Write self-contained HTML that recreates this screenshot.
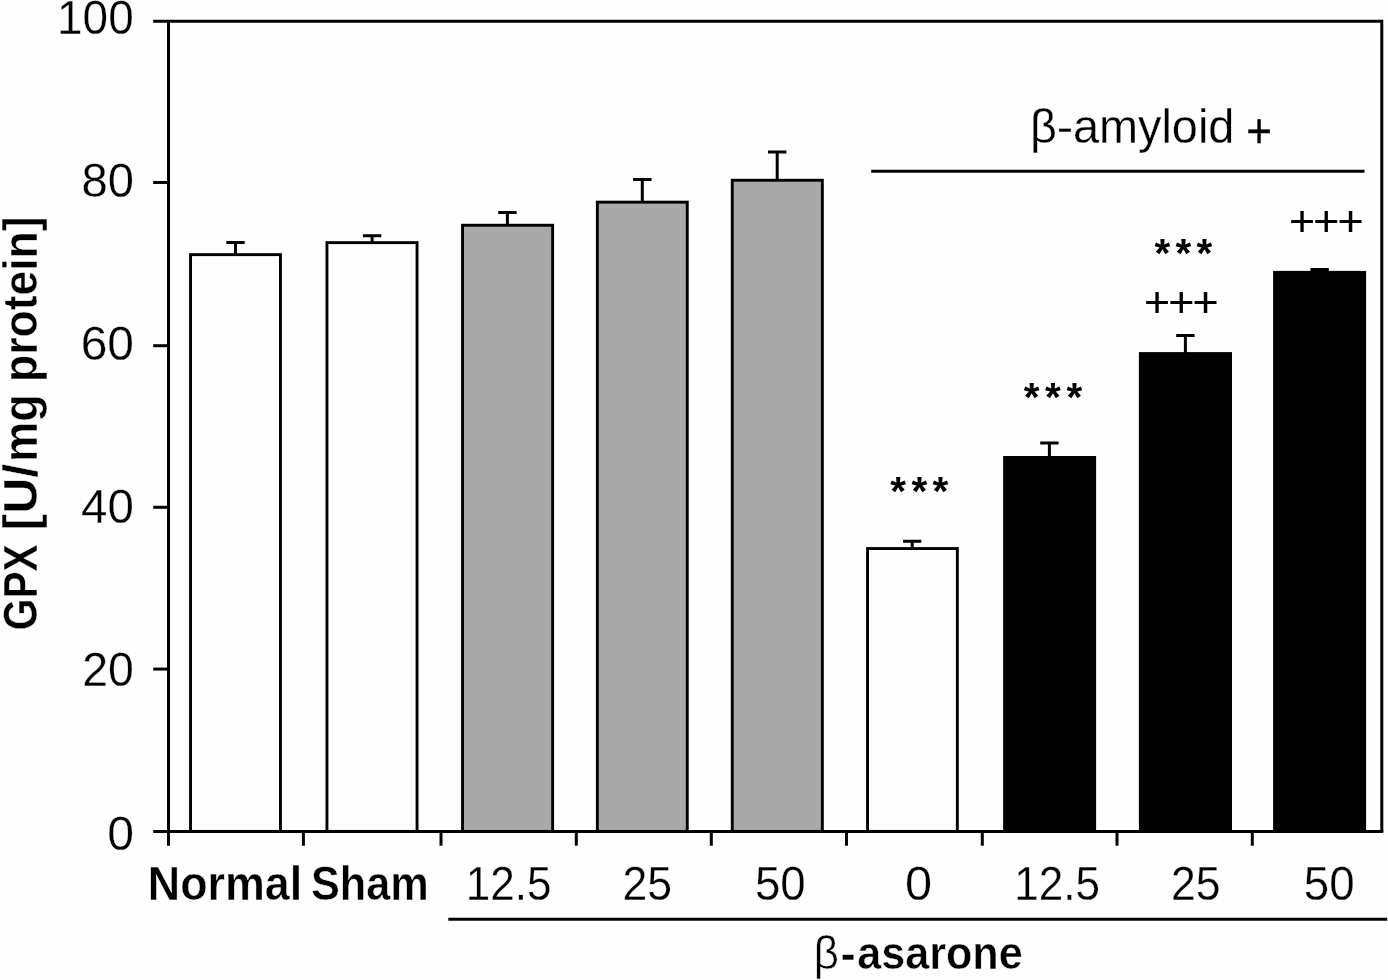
<!DOCTYPE html>
<html lang="en">
<head>
<meta charset="utf-8">
<title>GPX [U/mg protein] – β-asarone / β-amyloid bar chart</title>
<style>
html,body{margin:0;padding:0;background:#fefefe;}
body{width:1388px;height:980px;overflow:hidden;}
svg{display:block;}
text{font-family:"Liberation Sans", sans-serif;fill:#000;white-space:pre;}
.ax{stroke:#000;stroke-width:3.0;fill:none;stroke-linecap:butt;}
.eb{stroke:#000;stroke-width:3;fill:none;}
.bw{fill:#fefefe;stroke:#000;stroke-width:2.9;}
.bg{fill:#a9a9a9;stroke:#000;stroke-width:2.9;}
.bk{fill:#000;stroke:none;}
</style>
</head>
<body>
<svg width="1388" height="980" viewBox="0 0 1388 980" role="img" aria-label="Bar chart of GPX activity">
<rect x="0" y="0" width="1388" height="980" fill="#fefefe"/>
<rect class="bw" x="190.55" y="254.65" width="89.90" height="576.75"/>
<path class="eb" d="M235.5 254.2V242.5M226.3 242.5H244.7"/>
<rect class="bw" x="326.95" y="242.65" width="90.10" height="588.75"/>
<path class="eb" d="M372.1 242.2V235.7M362.9 235.7H381.3"/>
<rect class="bg" x="462.55" y="225.25" width="90.10" height="606.15"/>
<path class="eb" d="M507.4 224.8V212.5M498.2 212.5H516.6"/>
<rect class="bg" x="597.35" y="202.15" width="89.90" height="629.25"/>
<path class="eb" d="M642.3 201.7V179.4M633.1 179.4H651.5"/>
<rect class="bg" x="732.25" y="180.25" width="90.10" height="651.15"/>
<path class="eb" d="M777.2 179.8V152.0M768.0 152.0H786.4"/>
<rect class="bw" x="867.55" y="548.55" width="89.80" height="282.85"/>
<path class="eb" d="M912.2 548.1V541.2M903.0 541.2H921.4"/>
<rect class="bk" x="1003.1" y="456.0" width="93.0" height="375.4"/>
<path class="eb" d="M1049.4 457.0V443.0M1040.2 443.0H1058.6"/>
<rect class="bk" x="1138.9" y="352.1" width="93.1" height="479.3"/>
<path class="eb" d="M1185.4 353.1V335.4M1176.2 335.4H1194.6"/>
<rect class="bk" x="1273.1" y="270.9" width="93.0" height="560.5"/>
<path class="eb" d="M1319.6 271.9V269.4M1310.4 269.4H1328.8"/>
<path class="ax" d="M153.2 21.3H1381.8V831.4"/>
<path class="ax" d="M168.5 21.3V845.7"/>
<path class="ax" d="M153.2 831.4H1383.3"/>
<path class="ax" d="M153.2 669.1H168.5"/>
<path class="ax" d="M153.2 507.3H168.5"/>
<path class="ax" d="M153.2 345.7H168.5"/>
<path class="ax" d="M153.2 182.5H168.5"/>
<path class="ax" d="M303.4 831.4V845.7"/>
<path class="ax" d="M441.0 831.4V845.7"/>
<path class="ax" d="M576.3 831.4V845.7"/>
<path class="ax" d="M711.3 831.4V845.7"/>
<path class="ax" d="M846.5 831.4V845.7"/>
<path class="ax" d="M982.3 831.4V845.7"/>
<path class="ax" d="M1117.0 831.4V845.7"/>
<path class="ax" d="M1252.3 831.4V845.7"/>
<text transform="translate(57.10 33.75) scale(0.9664 1)" style="font-size:47.5px;" stroke="#fefefe" stroke-width="0.3">100</text>
<text transform="translate(81.55 196.75) scale(0.9915 1)" style="font-size:47.5px;" stroke="#fefefe" stroke-width="0.3">80</text>
<text transform="translate(80.67 360.05) scale(1.0089 1)" style="font-size:47.5px;" stroke="#fefefe" stroke-width="0.3">60</text>
<text transform="translate(81.11 522.85) scale(1.0002 1)" style="font-size:47.5px;" stroke="#fefefe" stroke-width="0.3">40</text>
<text transform="translate(82.26 685.95) scale(0.9776 1)" style="font-size:47.5px;" stroke="#fefefe" stroke-width="0.3">20</text>
<text transform="translate(107.22 849.55) scale(1.0129 1)" style="font-size:47.5px;" stroke="#fefefe" stroke-width="0.3">0</text>
<text transform="translate(37.25 0) rotate(-90)" style="font-size:48.2px;" font-weight="bold" stroke="#fefefe" stroke-width="0.5"><tspan x="-630.27" textLength="85.93" lengthAdjust="spacingAndGlyphs">GPX</tspan> <tspan x="-530.41" textLength="66.59" lengthAdjust="spacingAndGlyphs">[U/</tspan><tspan x="-461.88" textLength="67.80" lengthAdjust="spacingAndGlyphs">mg</tspan> <tspan x="-382.03" textLength="165.63" lengthAdjust="spacingAndGlyphs">protein]</tspan></text>
<text transform="translate(147.80 900.05) scale(0.9296 1)" style="font-size:48.2px;" stroke="#fefefe" stroke-width="0.5" font-weight="bold">Normal</text>
<text transform="translate(310.95 900.05) scale(0.8977 1)" style="font-size:48.2px;" stroke="#fefefe" stroke-width="0.5" font-weight="bold">Sham</text>
<text transform="translate(465.84 900.05) scale(0.9282 1)" style="font-size:47.5px;" stroke="#fefefe" stroke-width="0.3">12.5</text>
<text transform="translate(622.56 900.05) scale(0.9391 1)" style="font-size:47.5px;" stroke="#fefefe" stroke-width="0.3">25</text>
<text transform="translate(754.97 900.05) scale(0.9618 1)" style="font-size:47.5px;" stroke="#fefefe" stroke-width="0.3">50</text>
<text transform="translate(905.00 900.05) scale(1.0261 1)" style="font-size:47.5px;" stroke="#fefefe" stroke-width="0.3">0</text>
<text transform="translate(1014.24 900.05) scale(0.9282 1)" style="font-size:47.5px;" stroke="#fefefe" stroke-width="0.3">12.5</text>
<text transform="translate(1170.96 900.05) scale(0.9370 1)" style="font-size:47.5px;" stroke="#fefefe" stroke-width="0.3">25</text>
<text transform="translate(1303.87 900.05) scale(0.9618 1)" style="font-size:47.5px;" stroke="#fefefe" stroke-width="0.3">50</text>
<path class="ax" d="M448.3 919.3H1387.2"/>
<text y="969.45" style="font-size:46px;" font-weight="bold" stroke="#fefefe" stroke-width="0.5"><tspan x="813.77" font-weight="normal" textLength="25.16" lengthAdjust="spacingAndGlyphs">β</tspan><tspan x="840.62" textLength="15.21" lengthAdjust="spacingAndGlyphs">-</tspan><tspan x="857.13" textLength="165.64" lengthAdjust="spacingAndGlyphs">asarone</tspan></text>
<path class="ax" d="M871.2 171.3H1364.5"/>
<text y="142.55" style="font-size:47.3px;" stroke="#fefefe" stroke-width="0.3"><tspan x="1029.96" textLength="26.89" lengthAdjust="spacingAndGlyphs">β</tspan><tspan x="1056.70" textLength="16.50" lengthAdjust="spacingAndGlyphs">-</tspan><tspan x="1072.91" textLength="161.51" lengthAdjust="spacingAndGlyphs">amyloid</tspan> <tspan x="1246.15" dy="4.3" stroke="#000" stroke-width="0.3" textLength="25.72" lengthAdjust="spacingAndGlyphs">+</tspan></text>
<text transform="translate(890.18 504.83) scale(1.0000 1)" style="font-size:40.5px;letter-spacing:5.44px;" font-weight="bold">***</text>
<text transform="translate(1023.78 410.93) scale(1.0000 1)" style="font-size:40.5px;letter-spacing:5.54px;" font-weight="bold">***</text>
<text transform="translate(1154.58 266.73) scale(1.0000 1)" style="font-size:40.5px;letter-spacing:5.24px;" font-weight="bold">***</text>
<text transform="translate(1143.92 316.50) scale(1.0400 1)" style="font-size:43px;letter-spacing:-1.71px;" stroke="#000" stroke-width="0.15">+++</text>
<text transform="translate(1288.92 236.00) scale(1.0400 1)" style="font-size:43px;letter-spacing:-1.71px;" stroke="#000" stroke-width="0.15">+++</text>
</svg>
</body>
</html>
